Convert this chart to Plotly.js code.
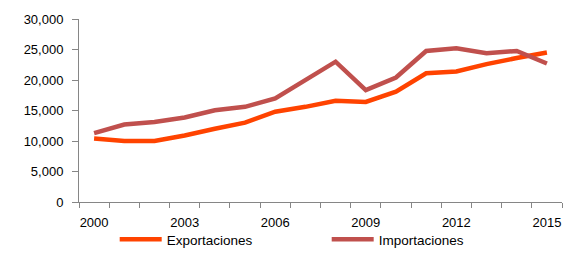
<!DOCTYPE html>
<html>
<head>
<meta charset="utf-8">
<script src="https://cdn.plot.ly/plotly-3.0.1.min.js"></script>
<style>html,body{margin:0;padding:0;background:#fff;}#chart{width:565px;height:255px;}</style>
</head>
<body>
<div id="chart"></div>
<script>
const years = [2000,2001,2002,2003,2004,2005,2006,2007,2008,2009,2010,2011,2012,2013,2014,2015];
const exportaciones = [10400,10000,10000,10900,12000,13000,14800,15600,16600,16400,18100,21100,21400,22600,23600,24500];
const importaciones = [11300,12700,13100,13850,15050,15600,17000,20000,23000,18350,20400,24750,25200,24400,24750,22700];
const tickYears = [2000,2003,2006,2009,2012,2015];
const tickLabels = ["2000","2003","2006","2009","2012","2015"];
const yTicks = [0,5000,10000,15000,20000,25000,30000];
const yTickLabels = ["0","5,000","10,000","15,000","20,000","25,000","30,000"];

const traces = [
  {x: years, y: exportaciones, name: "Exportaciones", mode: "lines", type: "scatter",
   line: {color: "#FF4300", width: 4.5}},
  {x: years, y: importaciones, name: "Importaciones", mode: "lines", type: "scatter",
   line: {color: "#C0504D", width: 4.5}}
];
const layout = {
  width: 565, height: 255,
  margin: {l: 79, r: 3, t: 19, b: 53, autoexpand: false},
  paper_bgcolor: "#fff", plot_bgcolor: "#fff",
  font: {family: "Liberation Sans, Arial, sans-serif", size: 13, color: "#000"},
  showlegend: true,
  legend: {orientation: "h", xref: "container", yref: "container", x: 0.203, xanchor: "left",
           y: -0.026, yanchor: "bottom", itemwidth: 42,
           entrywidth: 155, entrywidthmode: "pixels", font: {size: 13.5},
           bgcolor: "rgba(0,0,0,0)", tracegroupgap: 0},
  xaxis: {range: [1999.5, 2015.5], tickmode: "array", tickvals: tickYears, ticktext: tickLabels,
          ticks: "", ticklabelstandoff: 8, showgrid: false, zeroline: false, showline: true, linecolor: "#868686", linewidth: 1,
          minor: {tick0: 1999.5, dtick: 1, ticks: "outside", ticklen: 5, tickcolor: "#868686", tickwidth: 1, showgrid: false},
          fixedrange: true},
  yaxis: {range: [0, 30000], tickmode: "array", tickvals: yTicks, ticktext: yTickLabels,
          ticks: "outside", ticklen: 6, ticklabelstandoff: 6, tickcolor: "#868686", showgrid: false, zeroline: false,
          showline: true, linecolor: "#868686", linewidth: 1, fixedrange: true}
};
Plotly.newPlot("chart", traces, layout, {displayModeBar: false, staticPlot: true});
</script>
</body>
</html>
